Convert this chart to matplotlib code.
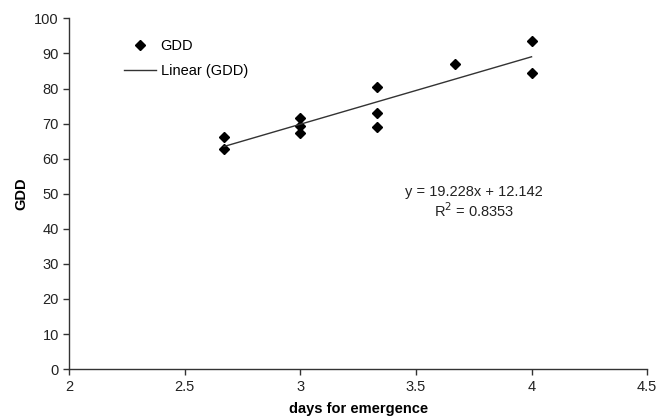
import numpy as np
import matplotlib
matplotlib.use('Agg')
import matplotlib.pyplot as plt

plt.rcParams['font.family'] = ['Liberation Sans', 'DejaVu Sans']

# emergence days vs growing degree days
days = [2.67, 2.67, 3.0, 3.0, 3.0, 3.33, 3.33, 3.33, 3.67, 4.0, 4.0]
gdd = [66.1, 62.7, 71.7, 69.3, 67.4, 80.3, 72.9, 68.9, 87.0, 93.5, 84.4]

# Excel-style linear trendline
slope, intercept = 19.228, 12.142
r2 = 0.8353

x_ticks = [2, 2.5, 3, 3.5, 4, 4.5]
y_ticks = list(range(0, 101, 10))

fig = plt.figure(figsize=(6.59, 4.18), dpi=100)
ax = fig.add_axes([0.105, 0.117, 0.877, 0.839])

ax.plot(days, gdd, 'D', color='black', ms=5.5, label='GDD')
xs = np.array([min(days), max(days)])
ax.plot(xs, slope * xs + intercept, '-', color='#333333', lw=1.0,
        label='Linear (GDD)')

ax.set_xlim(2, 4.5)
ax.set_ylim(0, 100)
ax.set_xticks(x_ticks)
ax.set_xticklabels(['2', '2.5', '3', '3.5', '4', '4.5'])
ax.set_yticks(y_ticks)

for side in ('top', 'right'):
    ax.spines[side].set_visible(False)
for side in ('left', 'bottom'):
    ax.spines[side].set_color('#333333')
    ax.spines[side].set_linewidth(1.0)
ax.tick_params(direction='out', length=4, width=1, colors='#333333',
               labelsize=10.5, labelcolor='#222222')

ax.set_xlabel('days for emergence', fontsize=10.5, fontweight='bold',
              labelpad=6)
ax.set_ylabel('GDD', fontsize=10.5, fontweight='bold', labelpad=4)

ax.text(3.75, 50.5, f'y = {slope}x + {intercept}', ha='center', va='center',
        fontsize=10.5, color='#222222')
ax.text(3.75, 45.3, f'R$^2$ = {r2}', ha='center', va='center',
        fontsize=10.5, color='#222222')

ax.legend(loc='upper left', bbox_to_anchor=(0.075, 0.975), frameon=False,
          fontsize=10.5, handlelength=2.2, handletextpad=0.3,
          labelspacing=0.75, borderpad=0.3)

fig.savefig('out.png', dpi=100)
